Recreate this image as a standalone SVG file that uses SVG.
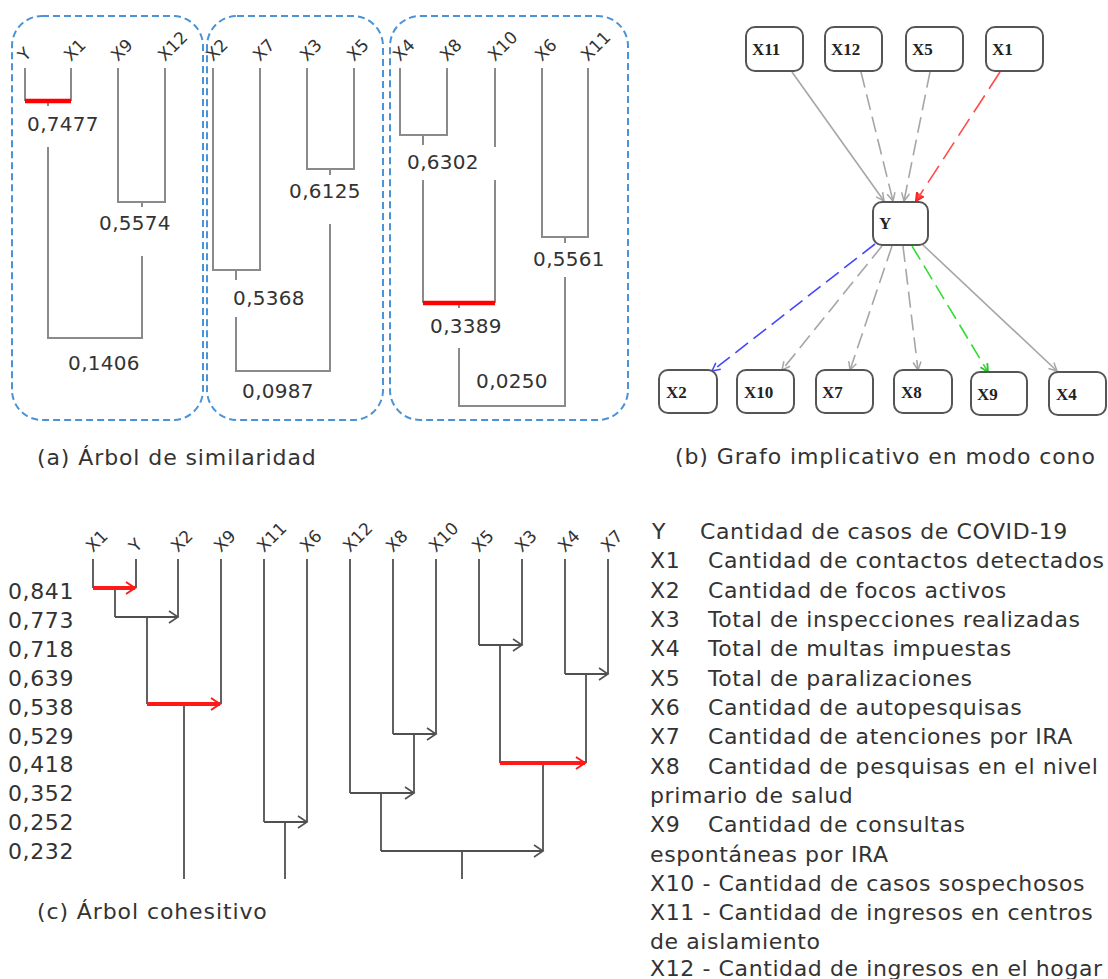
<svg xmlns="http://www.w3.org/2000/svg" width="1108" height="979" viewBox="0 0 1108 979">
<style>
text{font-family:"DejaVu Sans",Verdana,sans-serif;fill:#333}
.lab{font-size:17px;fill:#222}
.num{font-size:20px;letter-spacing:0.3px;text-anchor:middle}
.cap{font-size:22px;letter-spacing:0.9px}
.lev{font-size:22px;letter-spacing:0.6px}
.leg{font-size:22px;letter-spacing:0.6px}
.box{fill:none;stroke:#4a93d8;stroke-width:2;stroke-dasharray:7 4}
.ta{fill:none;stroke:#8a8a8a;stroke-width:2}
.ra{fill:none;stroke:#ff0000;stroke-width:4.5}
.tc{fill:none;stroke:#505050;stroke-width:1.8}
.rc{fill:none;stroke:#ff1a1a;stroke-width:4}
.node rect{fill:#fff;stroke:#555;stroke-width:2}
.node text{font-family:"Liberation Serif","Times New Roman",serif;font-weight:bold;font-size:17px;fill:#222}
.e{fill:none;stroke-width:1.6}
.eg{stroke:#a6a6a6}
.er{stroke:#ff4a4a}
.eb{stroke:#4646ff}
.en{stroke:#35dd35}
.d{stroke-dasharray:16 7}
</style>
<defs>
<marker id="ac" markerUnits="userSpaceOnUse" markerWidth="12" markerHeight="14" refX="10" refY="7" orient="auto"><path d="M1,1 L10,7 L1,13" fill="none" stroke="#505050" stroke-width="1.6"/></marker>
<marker id="acr" markerUnits="userSpaceOnUse" markerWidth="12" markerHeight="14" refX="10" refY="7" orient="auto"><path d="M1,1 L10,7 L1,13" fill="none" stroke="#ff1a1a" stroke-width="2"/></marker>
<marker id="mg" markerUnits="userSpaceOnUse" markerWidth="10" markerHeight="10" refX="9" refY="5" orient="auto"><path d="M1,1 L9,5 L1,9" fill="none" stroke="#a6a6a6" stroke-width="1.5"/></marker>
<marker id="mr" markerUnits="userSpaceOnUse" markerWidth="10" markerHeight="10" refX="9" refY="5" orient="auto"><path d="M1,1 L9,5 L1,9" fill="#ff4a4a" stroke="#ff2020" stroke-width="2"/></marker>
<marker id="mb" markerUnits="userSpaceOnUse" markerWidth="10" markerHeight="10" refX="9" refY="5" orient="auto"><path d="M1,1 L9,5 L1,9" fill="none" stroke="#4646ff" stroke-width="1.5"/></marker>
<marker id="mn" markerUnits="userSpaceOnUse" markerWidth="10" markerHeight="10" refX="9" refY="5" orient="auto"><path d="M1,1 L9,5 L1,9" fill="none" stroke="#20cc20" stroke-width="1.8"/></marker>
</defs>
<rect width="1108" height="979" fill="#fff"/>

<!-- Panel (a): similarity tree -->
<g id="panel-a">
<rect class="box" x="12" y="16" width="191" height="404" rx="30"/>
<rect class="box" x="207" y="16" width="176" height="404" rx="30"/>
<rect class="box" x="390" y="16" width="238" height="404" rx="30"/>
<g id="a-labels" class="lab">
<text transform="rotate(-45 25 62)" x="25" y="62">Y</text>
<text transform="rotate(-45 71 62)" x="71" y="62">X1</text>
<text transform="rotate(-45 118 62)" x="118" y="62">X9</text>
<text transform="rotate(-45 165 62)" x="165" y="62">X12</text>
<text transform="rotate(-45 213 62)" x="213" y="62">X2</text>
<text transform="rotate(-45 260 62)" x="260" y="62">X7</text>
<text transform="rotate(-45 307 62)" x="307" y="62">X3</text>
<text transform="rotate(-45 354 62)" x="354" y="62">X5</text>
<text transform="rotate(-45 400 62)" x="400" y="62">X4</text>
<text transform="rotate(-45 447 62)" x="447" y="62">X8</text>
<text transform="rotate(-45 495 62)" x="495" y="62">X10</text>
<text transform="rotate(-45 542 62)" x="542" y="62">X6</text>
<text transform="rotate(-45 588 62)" x="588" y="62">X11</text>
</g>
<g id="a-lines">
<path class="ta" d="M25,68 V101 M71,68 V101 M48,101 V106"/>
<path class="ra" d="M25,101 H71"/>
<path class="ta" d="M118,68 V202 H165 V68 M142,202 V207"/>
<path class="ta" d="M48,147 V338 H142 V256"/>
<path class="ta" d="M213,68 V270 H260 V68 M236,270 V280"/>
<path class="ta" d="M307,68 V169 H354 V68 M330,169 V175"/>
<path class="ta" d="M236,317 V371 H330 V224"/>
<path class="ta" d="M400,68 V135 H447 V68 M423,135 V145"/>
<path class="ta" d="M423,180 V303 M495,68 V147 M495,180 V303 M459,303 V308"/>
<path class="ra" d="M423,303 H495"/>
<path class="ta" d="M542,68 V237 H588 V68 M565,237 V243"/>
<path class="ta" d="M459,348 V406 H565 V277"/>
</g>
<g id="a-values">
<text class="num" x="63" y="131">0,7477</text>
<text class="num" x="135" y="230">0,5574</text>
<text class="num" x="104" y="370">0,1406</text>
<text class="num" x="325" y="198">0,6125</text>
<text class="num" x="269" y="305">0,5368</text>
<text class="num" x="278" y="398">0,0987</text>
<text class="num" x="443" y="169">0,6302</text>
<text class="num" x="466" y="333">0,3389</text>
<text class="num" x="569" y="266">0,5561</text>
<text class="num" x="512" y="388">0,0250</text>
</g>
<text class="cap" x="37" y="465">(a) Árbol de similaridad</text>
</g>

<!-- Panel (b): implicative graph -->
<g id="b-edges">
<line class="e eg" x1="792" y1="72" x2="884" y2="201" marker-end="url(#mg)"/>
<line class="e eg d" x1="861" y1="72" x2="893" y2="201" marker-end="url(#mg)"/>
<line class="e eg d" x1="930" y1="72" x2="904" y2="201" marker-end="url(#mg)"/>
<line class="e er" stroke-dasharray="20 8" x1="1000" y1="72" x2="916" y2="201" marker-end="url(#mr)"/>
<line class="e eb d" x1="875" y1="244" x2="712" y2="371" marker-end="url(#mb)"/>
<line class="e eg d" x1="882" y1="246" x2="782" y2="370" marker-end="url(#mg)"/>
<line class="e eg d" x1="892" y1="246" x2="850" y2="370" marker-end="url(#mg)"/>
<line class="e eg d" x1="903" y1="246" x2="918" y2="370" marker-end="url(#mg)"/>
<line class="e en d" x1="912" y1="246" x2="988" y2="372" marker-end="url(#mn)"/>
<line class="e eg" x1="923" y1="245" x2="1057" y2="371" marker-end="url(#mg)"/>
</g>
<g id="node-X11" class="node"><rect x="746" y="27" width="57" height="44" rx="9"/><text x="752" y="55">X11</text></g>
<g id="node-X12" class="node"><rect x="825" y="27" width="57" height="44" rx="9"/><text x="831" y="55">X12</text></g>
<g id="node-X5" class="node"><rect x="906" y="27" width="57" height="44" rx="9"/><text x="912" y="55">X5</text></g>
<g id="node-X1" class="node"><rect x="986" y="27" width="57" height="44" rx="9"/><text x="992" y="55">X1</text></g>
<g id="node-Y" class="node"><rect x="873" y="202" width="55" height="43" rx="9"/><text x="879" y="229">Y</text></g>
<g id="node-X2" class="node"><rect x="659" y="370" width="58" height="43" rx="9"/><text x="666" y="398">X2</text></g>
<g id="node-X10" class="node"><rect x="737" y="370" width="57" height="43" rx="9"/><text x="744" y="398">X10</text></g>
<g id="node-X7" class="node"><rect x="816" y="370" width="57" height="43" rx="9"/><text x="822" y="398">X7</text></g>
<g id="node-X8" class="node"><rect x="894" y="370" width="58" height="43" rx="9"/><text x="901" y="398">X8</text></g>
<g id="node-X9" class="node"><rect x="971" y="372" width="56" height="43" rx="9"/><text x="977" y="400">X9</text></g>
<g id="node-X4" class="node"><rect x="1049" y="372" width="57" height="43" rx="9"/><text x="1056" y="400">X4</text></g>
<text class="cap" x="675" y="464">(b) Grafo implicativo en modo cono</text>

<!-- Panel (c): cohesive tree -->
<g id="panel-c">
<g id="c-labels" class="lab">
<text transform="rotate(-45 93 553)" x="93" y="553">X1</text>
<text transform="rotate(-45 136 553)" x="136" y="553">Y</text>
<text transform="rotate(-45 178 553)" x="178" y="553">X2</text>
<text transform="rotate(-45 221 553)" x="221" y="553">X9</text>
<text transform="rotate(-45 264 553)" x="264" y="553">X11</text>
<text transform="rotate(-45 307 553)" x="307" y="553">X6</text>
<text transform="rotate(-45 350 553)" x="350" y="553">X12</text>
<text transform="rotate(-45 393 553)" x="393" y="553">X8</text>
<text transform="rotate(-45 436 553)" x="436" y="553">X10</text>
<text transform="rotate(-45 479 553)" x="479" y="553">X5</text>
<text transform="rotate(-45 522 553)" x="522" y="553">X3</text>
<text transform="rotate(-45 565 553)" x="565" y="553">X4</text>
<text transform="rotate(-45 608 553)" x="608" y="553">X7</text>
</g>
<g id="c-levels" class="lev">
<text x="8" y="599">0,841</text>
<text x="8" y="628">0,773</text>
<text x="8" y="657">0,718</text>
<text x="8" y="686">0,639</text>
<text x="8" y="715">0,538</text>
<text x="8" y="744">0,529</text>
<text x="8" y="772">0,418</text>
<text x="8" y="801">0,352</text>
<text x="8" y="830">0,252</text>
<text x="8" y="859">0,232</text>
</g>
<g id="c-lines">
<path class="tc" d="M93,559 V588 M136,559 V588 M178,559 V617 M221,559 V704 M264,559 V822 M307,559 V822 M350,559 V793 M393,559 V734 M436,559 V734 M479,559 V645 M522,559 V645 M565,559 V674 M608,559 V674"/>
<path class="tc" d="M115,588 V617 M147,617 V704 M184,704 V879 M285,822 V879 M414,734 V793 M381,793 V851 M500,645 V763 M586,674 V763 M543,763 V851 M462,851 V879"/>
<path class="rc" d="M93,588 H135" marker-end="url(#acr)"/>
<path class="tc" d="M115,617 H178" marker-end="url(#ac)"/>
<path class="rc" d="M147,704 H220" marker-end="url(#acr)"/>
<path class="tc" d="M264,822 H307" marker-end="url(#ac)"/>
<path class="tc" d="M393,734 H436" marker-end="url(#ac)"/>
<path class="tc" d="M350,793 H414" marker-end="url(#ac)"/>
<path class="tc" d="M479,645 H522" marker-end="url(#ac)"/>
<path class="tc" d="M565,674 H608" marker-end="url(#ac)"/>
<path class="rc" d="M500,763 H585" marker-end="url(#acr)"/>
<path class="tc" d="M381,851 H543" marker-end="url(#ac)"/>
</g>
<text class="cap" x="37" y="919">(c) Árbol cohesitivo</text>
</g>

<!-- Legend -->
<g id="legend" class="leg">
<text x="652" y="539">Y</text><text x="700" y="539">Cantidad de casos de COVID-19</text>
<text x="650" y="568">X1</text><text x="708" y="568">Cantidad de contactos detectados</text>
<text x="650" y="598">X2</text><text x="708" y="598">Cantidad de focos activos</text>
<text x="650" y="627">X3</text><text x="708" y="627">Total de inspecciones realizadas</text>
<text x="650" y="656">X4</text><text x="708" y="656">Total de multas impuestas</text>
<text x="650" y="686">X5</text><text x="708" y="686">Total de paralizaciones</text>
<text x="650" y="715">X6</text><text x="708" y="715">Cantidad de autopesquisas</text>
<text x="650" y="744">X7</text><text x="708" y="744">Cantidad de atenciones por IRA</text>
<text x="650" y="774">X8</text><text x="708" y="774">Cantidad de pesquisas en el nivel</text>
<text x="650" y="803">primario de salud</text>
<text x="650" y="832">X9</text><text x="708" y="832">Cantidad de consultas</text>
<text x="650" y="862">espontáneas por IRA</text>
<text x="650" y="891">X10 - Cantidad de casos sospechosos</text>
<text x="650" y="920">X11 - Cantidad de ingresos en centros</text>
<text x="650" y="949">de aislamiento</text>
<text x="650" y="976">X12 - Cantidad de ingresos en el hogar</text>
</g>
</svg>
